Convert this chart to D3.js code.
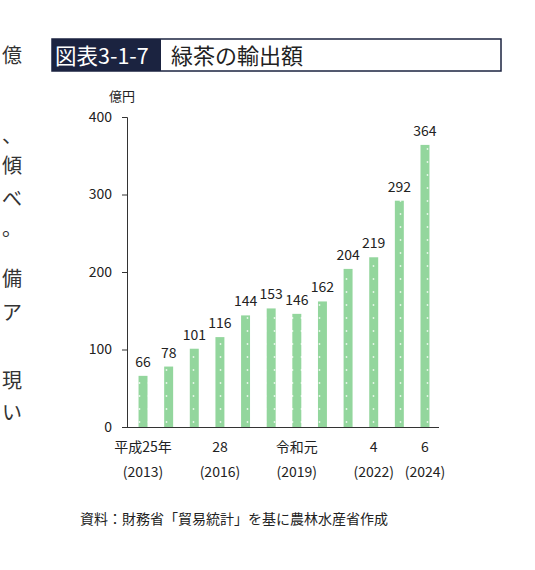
<!DOCTYPE html>
<html><head><meta charset="utf-8">
<script src="https://cdn.jsdelivr.net/npm/d3@7"></script>
<style>body{margin:0;background:#fff}text{font-family:"Noto Sans CJK JP","Noto Sans",sans-serif}</style>
</head><body>
<script>
// data
var years = [2013, 2014, 2015, 2016, 2017, 2018, 2019, 2020, 2021, 2022, 2023, 2024]
var values = [66, 78, 101, 116, 144, 153, 146, 162, 204, 219, 292, 364]
var tickLabels = {2013: ["平成25年", "(2013)"], 2016: ["28", "(2016)"], 2019: ["令和元", "(2019)"], 2022: ["4", "(2022)"], 2024: ["6", "(2024)"]}
var sideText = [["億", 55], ["、", 135], ["傾", 165], ["べ", 198], ["。", 228], ["備", 278], ["ア", 312], ["現", 380], ["い", 412]]

var svg = d3.select('body').append('svg').attr('width', 535).attr('height', 570)

var defs = svg.append('defs')
var pat = defs.append('pattern').attr('id', 'dots').attr('patternUnits', 'userSpaceOnUse')
    .attr('width', 9).attr('height', 13)
pat.append('rect').attr('width', 9).attr('height', 13).attr('fill', '#93d69d')
pat.append('circle').attr('cx', 4.5).attr('cy', 6).attr('r', 0.9).attr('fill', '#e8f7ea')

// text cut off at the left edge
svg.selectAll('.side').data(sideText).enter().append('text')
    .attr('x', 2).attr('y', function(d) { return d[1] + 8 })
    .attr('font-size', 20).attr('fill', '#333').text(function(d) { return d[0] })

// title
svg.append('rect').attr('x', 52).attr('y', 39).attr('width', 449).attr('height', 32)
    .attr('fill', '#fff').attr('stroke', '#1b2340').attr('stroke-width', 1.5)
svg.append('rect').attr('x', 52).attr('y', 39).attr('width', 109).attr('height', 32).attr('fill', '#1b2340')
svg.append('text').attr('x', 55).attr('y', 64).attr('font-size', 21.5).attr('fill', '#fff').text('図表3-1-7')
svg.append('text').attr('x', 171).attr('y', 64).attr('font-size', 22).attr('fill', '#222').text('緑茶の輸出額')

var x = d3.scaleBand().domain(years).range([127, 441]).paddingInner(0.65).paddingOuter(0.45)
var y = d3.scaleLinear().domain([0, 400]).range([427, 117])

var g = svg.append('g')
g.selectAll('.bar').data(values).enter().append('rect')
    .attr('x', function(d, i) { return x(years[i]) })
    .attr('y', function(d) { return y(d) })
    .attr('width', x.bandwidth())
    .attr('height', function(d) { return y(0) - y(d) })
    .attr('fill', 'url(#dots)')
g.selectAll('.lbl').data(values).enter().append('text')
    .attr('x', function(d, i) { return x(years[i]) + x.bandwidth() / 2 })
    .attr('y', function(d) { return y(d) - 9 })
    .attr('text-anchor', 'middle').attr('font-size', 14).attr('fill', '#222').text(function(d) { return d })

var yAxis = svg.append('g').attr('transform', 'translate(127,0)')
    .call(d3.axisLeft(y).tickValues([0, 100, 200, 300, 400]).tickSize(5).tickPadding(10))
yAxis.selectAll('text').attr('font-size', 14).attr('fill', '#222')
yAxis.selectAll('line,path').attr('stroke', '#333')
svg.append('line').attr('x1', 127).attr('x2', 439).attr('y1', 427.5).attr('y2', 427.5).attr('stroke', '#333')
svg.append('text').attr('x', 122).attr('y', 101).attr('text-anchor', 'middle').attr('font-size', 13).attr('fill', '#222').text('億円')

years.forEach(function(yr) {
    var t = tickLabels[yr]
    if (!t) return
    var cx = x(yr) + x.bandwidth() / 2
    svg.append('text').attr('x', cx).attr('y', 452).attr('text-anchor', 'middle').attr('font-size', 14).attr('fill', '#222').text(t[0])
    svg.append('text').attr('x', cx).attr('y', 477).attr('text-anchor', 'middle').attr('font-size', 14).attr('fill', '#222').text(t[1])
})

svg.append('text').attr('x', 80).attr('y', 524).attr('font-size', 14).attr('fill', '#222')
    .text('資料：財務省「貿易統計」を基に農林水産省作成')
</script>
</body></html>
